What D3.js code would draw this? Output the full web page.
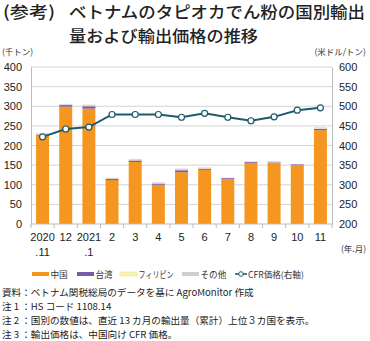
<!DOCTYPE html>
<html><head><meta charset="utf-8">
<script src="https://cdn.jsdelivr.net/npm/d3@7/dist/d3.min.js"></script>
<style>
body{margin:0;background:#fff;}
svg{font-family:"Noto Sans CJK JP","Noto Sans",sans-serif;}
</style></head>
<body><svg id="c" width="370" height="341"></svg>
<script>
// Months (two-line labels)
const months = ["2020\n.11","12","2021\n.1","2","3","4","5","6","7","8","9","10","11"];
// Export volumes by destination (thousand tonnes)
const china = [225,299,294,112,158,100,132,138,115,156,155,150,239];
const taiwan = [3,4,6,3,4,3,5,3,2,2,2,2,3];
const philippines = [1,1,1,1,1,1,1,1,0,1,1,0,1];
const others = [2,2,3,2,2,2,3,2,1,1,2,1,3];
// CFR price to China (USD/tonne, right axis)
const cfrPrice = [422,442,447,479,479,479,472,482,472,463,473,490,496];
const leftTicks = [0,50,100,150,200,250,300,350,400];
const rightTicks = [200,250,300,350,400,450,500,550,600];

const seriesNames = ["中国","台湾","フィリピン","その他"];
const colors = ["#f4961f","#7b5aa6","#fbf3b5","#cfcfcf"];
const lineColor = "#1d5a6c";

const svg = d3.select("#c");
const L = 31, R = 332, T = 67, B = 224;

const x = d3.scaleBand().domain(months).range([L, R]).paddingInner(0.44).paddingOuter(0.22);
const yL = d3.scaleLinear().domain([0,400]).range([B, T]);
const yR = d3.scaleLinear().domain([200,600]).range([B, T]);

// Title
const title = svg.append("g").attr("fill","#222").attr("font-size",16.4).attr("font-weight",500);
title.append("text").attr("x",3).attr("y",18).attr("textLength",52).attr("lengthAdjust","spacingAndGlyphs").text("(参考)");
title.append("text").attr("x",69).attr("y",18).attr("textLength",296).attr("lengthAdjust","spacingAndGlyphs").text("ベトナムのタピオカでん粉の国別輸出");
title.append("text").attr("x",69).attr("y",42).attr("textLength",189).attr("lengthAdjust","spacingAndGlyphs").text("量および輸出価格の推移");

// Unit labels
svg.append("text").attr("x",2).attr("y",55).attr("font-size",8.5).attr("fill","#333").text("(千トン)");
svg.append("text").attr("x",366).attr("y",55).attr("text-anchor","end").attr("font-size",8.5).attr("fill","#333").text("(米ドル/トン)");

// Gridlines
svg.append("g").selectAll("line").data(leftTicks.filter(d=>d>0)).join("line")
  .attr("x1",L).attr("x2",R).attr("y1",d=>yL(d)).attr("y2",d=>yL(d))
  .attr("stroke","#d4d4d4").attr("stroke-width",1);

// Left axis
const gL = svg.append("g").attr("transform",`translate(${L},0)`)
  .call(d3.axisLeft(yL).tickValues(leftTicks).tickSize(0).tickPadding(9));
gL.select(".domain").attr("stroke","#bbb");
gL.selectAll("text").attr("font-size",11).attr("fill","#222").attr("font-family","Liberation Sans, Arial, sans-serif");

// Right axis
const gR = svg.append("g").attr("transform",`translate(${R},0)`)
  .call(d3.axisRight(yR).tickValues(rightTicks).tickSize(0).tickPadding(7));
gR.select(".domain").attr("stroke","#bbb");
gR.selectAll("text").attr("font-size",11).attr("fill","#222").attr("font-family","Liberation Sans, Arial, sans-serif");

// Stacked bars
const rows = months.map((m,i)=>({m, "中国":china[i], "台湾":taiwan[i], "フィリピン":philippines[i], "その他":others[i]}));
const stack = d3.stack().keys(seriesNames)(rows);
svg.append("g").selectAll("g").data(stack).join("g").attr("fill",(d,i)=>colors[i])
  .selectAll("rect").data(d=>d).join("rect")
  .attr("x",d=>x(d.data.m)).attr("width",x.bandwidth())
  .attr("y",d=>yL(d[1])).attr("height",d=>Math.max(0,yL(d[0])-yL(d[1])));

// Bottom axis with ticks between categories
svg.append("line").attr("x1",L).attr("x2",R).attr("y1",B).attr("y2",B).attr("stroke","#bbb");
const bounds = d3.range(months.length+1).map(i=>L + (R-L)*i/months.length);
svg.append("g").selectAll("line").data(bounds).join("line")
  .attr("x1",d=>d).attr("x2",d=>d).attr("y1",B).attr("y2",B+4).attr("stroke","#bbb");

const xl = svg.append("g").attr("font-size",11).attr("fill","#222").attr("font-family","Liberation Sans, Arial, sans-serif").attr("text-anchor","middle");
months.forEach(m=>{
  const parts = m.split("\n");
  const cx = x(m)+x.bandwidth()/2;
  parts.forEach((p,j)=>{
    xl.append("text").attr("x",cx).attr("y",241+j*15).text(p);
  });
});
svg.append("text").attr("x",366).attr("y",252).attr("text-anchor","end").attr("font-size",8.5).attr("fill","#333").text("(年.月)");

// Price line
const line = d3.line().x((d,i)=>x(months[i])+x.bandwidth()/2).y(d=>yR(d));
svg.append("path").datum(cfrPrice).attr("d",line).attr("fill","none").attr("stroke",lineColor).attr("stroke-width",2);
svg.append("g").selectAll("circle").data(cfrPrice).join("circle")
  .attr("cx",(d,i)=>x(months[i])+x.bandwidth()/2).attr("cy",d=>yR(d)).attr("r",3)
  .attr("fill","#fff").attr("stroke",lineColor).attr("stroke-width",1.2);

// Legend
const lg = svg.append("g").attr("font-size",8.6).attr("fill","#333");
const legendX = [32,77,120,182];
seriesNames.forEach((n,i)=>{
  lg.append("rect").attr("x",legendX[i]).attr("y",272).attr("width",17).attr("height",4)
    .attr("fill",colors[i]).attr("stroke",i===2?"#e8dc8a":"none").attr("stroke-width",0.5);
  const t = lg.append("text").attr("x",legendX[i]+18.5).attr("y",277.5).text(n);
  if (i===2) t.attr("textLength",35).attr("lengthAdjust","spacingAndGlyphs");
});
lg.append("line").attr("x1",235).attr("x2",247).attr("y1",274).attr("y2",274).attr("stroke",lineColor).attr("stroke-width",1.6);
lg.append("circle").attr("cx",241).attr("cy",274).attr("r",2.3).attr("fill","#fff").attr("stroke",lineColor).attr("stroke-width",1);
lg.append("text").attr("x",248).attr("y",277.5).text("CFR価格(右軸)");

// Notes
const notes = [
  "資料：ベトナム関税総局のデータを基に AgroMonitor 作成",
  "注 1 ：HS コード 1108.14",
  "注 2 ：国別の数値は、直近 13 カ月の輸出量（累計）上位３カ国を表示。",
  "注 3 ：輸出価格は、中国向け CFR 価格。"
];
svg.append("g").attr("font-size",9.6).attr("fill","#222").selectAll("text").data(notes).join("text")
  .attr("x",2).attr("y",(d,i)=>295.5+i*14.2).text(d=>d);
</script></body></html>
